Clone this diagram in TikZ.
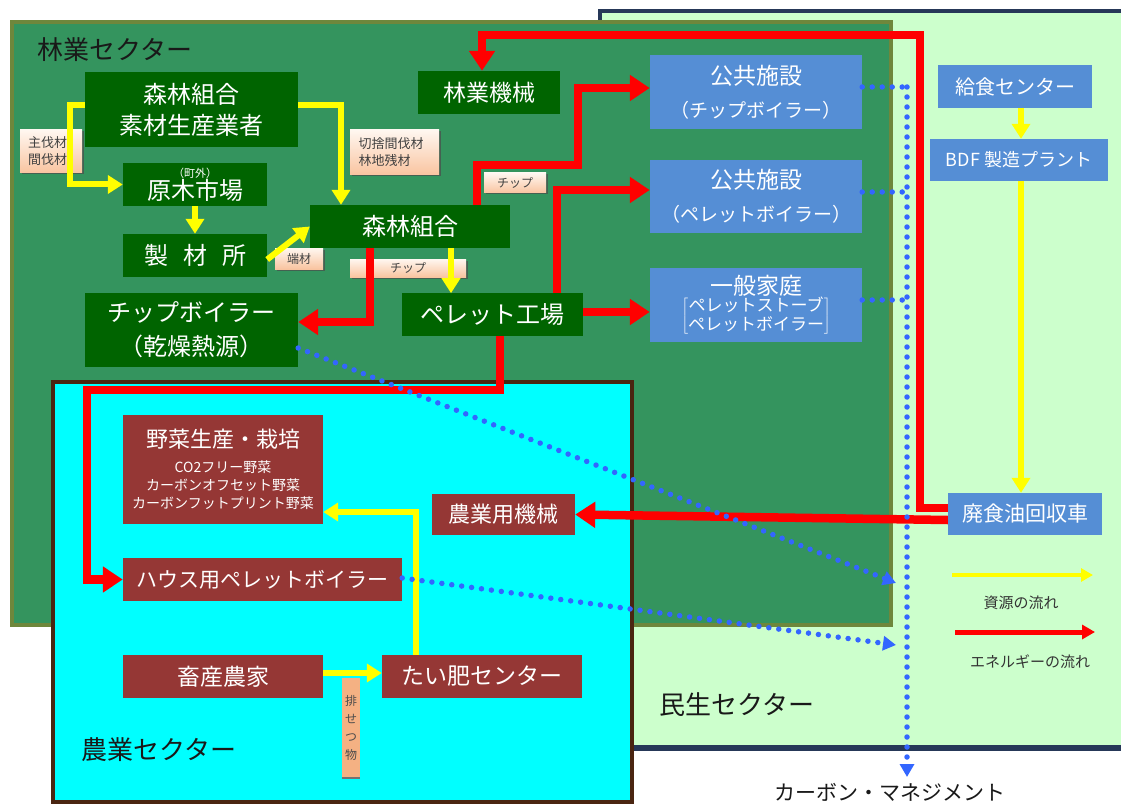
\documentclass[tikz,border=0pt]{standalone}
\usepackage{fontspec}
\setmainfont{Noto Sans CJK JP}
\usetikzlibrary{arrows.meta,shadows}
\definecolor{minsei}{RGB}{204,255,204}
\definecolor{navy}{RGB}{38,56,88}
\definecolor{forest}{RGB}{52,148,94}
\definecolor{olive}{RGB}{110,135,60}
\definecolor{agri}{RGB}{0,255,255}
\definecolor{agriborder}{RGB}{74,37,17}
\definecolor{dgreen}{RGB}{0,100,0}
\definecolor{pblue}{RGB}{85,142,213}
\definecolor{abrown}{RGB}{149,55,53}
\definecolor{yel}{RGB}{255,255,0}
\definecolor{rd}{RGB}{255,0,0}
\definecolor{dotblue}{RGB}{51,102,255}
\definecolor{peachtop}{RGB}{255,247,240}
\definecolor{peachbot}{RGB}{249,196,160}
\definecolor{excr}{RGB}{244,177,131}
\newcommand{\jfs}[1]{\fontsize{#1}{#1}\selectfont}
\begin{document}
\begin{tikzpicture}[x=1pt,y=-1pt,
  nbox/.style={inner sep=0pt, align=center, text=white},
  fbox/.style={nbox, fill=dgreen},
  bbox/.style={nbox, fill=pblue},
  abox/.style={nbox, fill=abrown},
  title/.style={inner sep=0pt, text=black!90, font=\jfs{26}},
  lbl/.style={inner sep=0pt, align=center, text=black!75, font=\fontsize{13}{17}\selectfont,
    top color=peachtop, bottom color=peachbot,
    drop shadow={shadow xshift=1.5pt, shadow yshift=-1.5pt, fill=black!70, opacity=.7}},
  yarr/.style={draw=yel, line width=6pt, -{Triangle[length=15pt,width=18pt]}},
  rarr/.style={draw=rd, line width=8.5pt, -{Triangle[length=20pt,width=25pt]}},
  bline/.style={draw=dotblue, line width=5.5pt, line cap=round, dash pattern=on 0pt off 10pt},
  barr/.style={bline, -{Triangle[length=13pt,width=14pt]}},
  legtxt/.style={inner sep=0pt, text=black!80, font=\jfs{15}}
]
\clip (0,0) rectangle (1121,805);
\fill[white] (0,0) rectangle (1121,805);
% sectors
\fill[minsei] (600,10) rectangle (1130,748);
\draw[navy, line width=4pt] (600,24) -- (600,11) -- (1130,11);
\draw[navy, line width=6pt] (600,748) -- (1130,748);
\draw[olive, fill=forest, line width=4pt] (12,22) rectangle (891,625);
\draw[agriborder, fill=agri, line width=4pt] (53,382) rectangle (632,802);

% titles
\node[title] (t1) at (115,50) {林業セクター};
\node[title] (t2) at (159,750) {農業セクター};
\node[title] (t3) at (737,705) {民生セクター};
\node[title, font=\jfs{21}] (t4) at (890,792) {カーボン・マネジメント};

% forestry nodes
\node[fbox, minimum width=213pt, minimum height=75pt, font=\fontsize{24}{31}\selectfont] (fk) at (191.5,109.5) {森林組合\\素材生産業者};
\node[fbox, minimum width=144pt, minimum height=43pt, font=\fontsize{24}{22}\selectfont] (gm) at (195,184.5) {{\jfs{11}（町外）}\\原木市場};
\node[fbox, minimum width=144pt, minimum height=43pt, font=\jfs{24}] (sz) at (195,255.5) {製\hspace{15pt}材\hspace{15pt}所};
\node[fbox, minimum width=200pt, minimum height=43pt, font=\jfs{24}] (sk) at (410,226.5) {森林組合};
\node[fbox, minimum width=213pt, minimum height=74pt, font=\fontsize{24}{34}\selectfont] (cb) at (191.5,330) {チップボイラー\\（乾燥熱源）};
\node[fbox, minimum width=181pt, minimum height=43pt, font=\jfs{24}] (pk) at (492.5,314.5) {ペレット工場};
\node[fbox, minimum width=142pt, minimum height=43pt, font=\jfs{23}] (rk) at (489,92.5) {林業機械};

% public nodes
\node[bbox, minimum width=212pt, minimum height=74pt, font=\fontsize{23}{33}\selectfont] (p1) at (756,92) {公共施設\\{\jfs{19}（チップボイラー）}};
\node[bbox, minimum width=212pt, minimum height=73pt, font=\fontsize{23}{33}\selectfont] (p2) at (756,196.5) {公共施設\\{\jfs{19}（ペレットボイラー）}};
\node[bbox, minimum width=212pt, minimum height=74pt, font=\fontsize{23}{25}\selectfont] (ip) at (756,305) {一般家庭\\$\left[\vcenter{\hbox{\fontsize{17}{15}\selectfont\begin{tabular}{@{}c@{}}ペレットストーブ\\ペレットボイラー\end{tabular}}}\right]$};
\node[bbox, minimum width=154pt, minimum height=43pt, font=\jfs{20}] (kc) at (1015,86.5) {給食センター};
\node[bbox, minimum width=178pt, minimum height=42pt, font=\jfs{18}] (bdf) at (1019,160) {BDF 製造プラント};
\node[bbox, minimum width=154pt, minimum height=42pt, font=\jfs{21}] (hy) at (1025,514) {廃食油回収車};

% agriculture nodes
\node[abox, minimum width=200pt, minimum height=109pt, font=\fontsize{14}{18}\selectfont] (ys) at (223,469.5) {{\jfs{22}野菜生産・栽培}\\[7pt]CO2フリー野菜\\カーボンオフセット野菜\\カーボンフットプリント野菜};
\node[abox, minimum width=143pt, minimum height=41pt, font=\jfs{22}] (nk) at (503.5,514.5) {農業用機械};
\node[abox, minimum width=279pt, minimum height=43pt, font=\jfs{21}] (hb) at (262.5,579.5) {ハウス用ペレットボイラー};
\node[abox, minimum width=200pt, minimum height=43pt, font=\jfs{23}] (cn) at (223,676.5) {畜産農家};
\node[abox, minimum width=200pt, minimum height=43pt, font=\jfs{23}] (tc) at (482,676.5) {たい肥センター};

% labels
\node[lbl, minimum width=62pt, minimum height=43pt, text width=46pt, align=left] (l1) at (51,151.5) {主伐材\\間伐材};
\node[lbl, minimum width=89pt, minimum height=45pt, text width=72pt, align=left] (l2) at (394.5,152.5) {切捨間伐材\\林地残材};
\node[lbl, minimum width=62pt, minimum height=20pt, font=\jfs{12}] (l3) at (515,183) {チップ};
\node[lbl, minimum width=48pt, minimum height=21pt, font=\jfs{12}] (l4) at (299,258.5) {端材};
\node[lbl, minimum width=116pt, minimum height=18pt, font=\jfs{12}] (l5) at (408,268) {チップ};
\node[inner sep=0pt, fill=excr, minimum width=18pt, minimum height=100pt, align=center, text=black!70, font=\fontsize{12}{18}\selectfont] (l6) at (351,728) {排\\せ\\つ\\物};
\draw[black!55, line width=2pt] (l6.south west) -- (l6.south east);

% yellow flows
\draw[yarr] ([yshift=4.5pt]fk.west) -| (70,150) |- (gm.west);
\draw[yarr] ([yshift=4.5pt]fk.east) -| ([xshift=-69pt]sk.north);
\draw[yarr] (gm.south) -- (sz.north);
\draw[yarr] ([yshift=-4pt]sz.east) -- ([yshift=0pt]sk.west);
\draw[yarr] ([xshift=41pt]sk.south) -- ++(0,45);
\draw[yarr] ([xshift=6pt]kc.south) -- ([xshift=2pt]bdf.north);
\draw[yarr] ([xshift=2pt]bdf.south) -- ([xshift=-4pt]hy.north);
\draw[yarr] ([xshift=-66pt]tc.north) |- ([yshift=-42.5pt]ys.east);
\draw[yarr] ([yshift=3.5pt]cn.east) -- ([yshift=3.5pt]tc.west);

% red flows
\draw[rarr] ([xshift=67pt]sk.north) |- (578,165) |- ([yshift=4pt]p1.west);
\draw[rarr] ([xshift=64.5pt]pk.north) |- ([yshift=6.5pt]p2.west);
\draw[rarr] ([yshift=2.5pt]pk.east) -- ([yshift=-7pt]ip.west);
\draw[rarr] ([xshift=-40pt]sk.south) |- ([yshift=8pt]cb.east);
\draw[rarr] ([xshift=7.5pt]pk.south) -- (500,390) -- (87,390) |- (hb.west);
\draw[rarr] ([yshift=-6pt]hy.west) -- (nk.east);
\draw[rarr] ([yshift=6pt]hy.west) -- (920,508) -- (920,35) -| ([xshift=-7pt]rk.north);

% carbon management (blue dotted)
\coordinate (j1) at (907,87);
\coordinate (j2) at (907,192);
\coordinate (j3) at (907,300);
\coordinate (vbot) at (907,777);
\coordinate (d1) at (896,583);
\coordinate (d2) at (896,645);
\draw[barr] (j1) -- (vbot);
\draw[bline] ([yshift=5pt]p1.east) -- (j1);
\draw[bline] ([yshift=4.5pt]p2.east) -- (j2);
\draw[bline] ([yshift=5pt]ip.east) -- (j3);
\draw[barr] ([yshift=-18pt]cb.east) -- (d1);
\draw[barr] ([yshift=1.5pt]hb.east) -- (d2);

% legend
\coordinate (ly1) at (952,575);
\coordinate (ly2) at (1093,575);
\coordinate (lr1) at (955,632);
\coordinate (lr2) at (1095,632);
\draw[draw=yel, line width=4pt, -{Triangle[length=12pt,width=13pt]}] (ly1) -- (ly2);
\draw[draw=rd, line width=5pt, -{Triangle[length=13pt,width=14pt]}] (lr1) -- (lr2);
\node[legtxt] (lg1) at (1021,603) {資源の流れ};
\node[legtxt] (lg2) at (1030,662) {エネルギーの流れ};
\end{tikzpicture}
\end{document}
